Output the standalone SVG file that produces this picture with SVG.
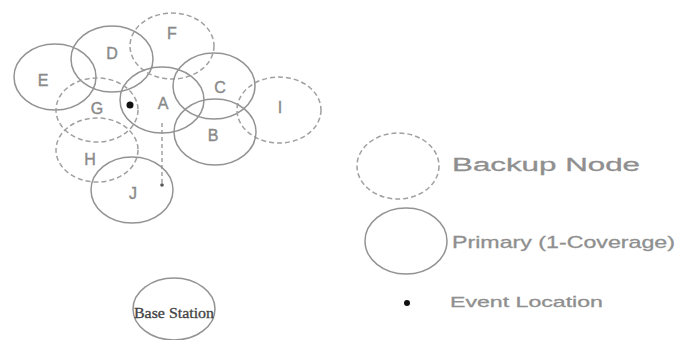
<svg xmlns="http://www.w3.org/2000/svg" width="678" height="340" viewBox="0 0 678 340">
<style>
.p{fill:none;stroke:#939393;stroke-width:1.5}
.b{fill:none;stroke:#a0a0a0;stroke-width:1.5;stroke-dasharray:5 3}
.l{font-family:"Liberation Sans",Arial,sans-serif;font-size:16px;fill:#8a8a8a;text-anchor:middle;stroke:#8a8a8a;stroke-width:0.4}
.g{font-family:"Liberation Sans",Arial,sans-serif;fill:#8f8f8f;stroke:#8f8f8f;stroke-width:0.3}
</style>
<rect width="678" height="340" fill="#fff"/>
<g id="connectors">
<line x1="162" y1="123" x2="162" y2="185" stroke="#8a8a8a" stroke-width="1.2" stroke-dasharray="4 3"/>
</g>
<g id="E"><ellipse class="p" cx="55" cy="77" rx="41" ry="33"/><text class="l" x="43" y="86">E</text></g>
<g id="D"><ellipse class="p" cx="112" cy="59" rx="41" ry="33"/><text class="l" x="112" y="59">D</text></g>
<g id="F"><ellipse class="b" cx="172" cy="46" rx="42" ry="33"/><text class="l" x="172" y="39">F</text></g>
<g id="C"><ellipse class="p" cx="214" cy="86" rx="41" ry="33"/><text class="l" x="220" y="93">C</text></g>
<g id="I"><ellipse class="b" cx="279" cy="110" rx="42" ry="33"/><text class="l" x="280" y="113">I</text></g>
<g id="A"><ellipse class="p" cx="162" cy="100" rx="42" ry="33"/><text class="l" x="163" y="109">A</text></g>
<g id="G"><ellipse class="b" cx="97" cy="110" rx="41" ry="32"/><text class="l" x="97" y="114">G</text></g>
<g id="B"><ellipse class="p" cx="215" cy="132" rx="41" ry="33"/><text class="l" x="213" y="141">B</text></g>
<g id="H"><ellipse class="b" cx="97" cy="150" rx="41" ry="32"/><text class="l" x="90" y="165">H</text></g>
<g id="J"><ellipse class="p" cx="132" cy="190" rx="41" ry="33"/><text class="l" x="133" y="199">J</text></g>
<g id="event"><circle cx="130" cy="105" r="3.5" fill="#111"/></g>
<g id="target"><circle cx="162" cy="185" r="1.8" fill="#555"/></g>
<g id="base-station"><ellipse class="p" cx="174" cy="309" rx="41" ry="31"/><text x="174" y="318" font-family="'Liberation Serif',serif" font-size="14" fill="#444" stroke="#444" stroke-width="0.3" text-anchor="middle" textLength="80" lengthAdjust="spacingAndGlyphs">Base Station</text></g>
<g id="legend-backup"><ellipse class="b" cx="398" cy="166" rx="41" ry="33"/><text class="g" x="452" y="171" font-size="18" textLength="188" lengthAdjust="spacingAndGlyphs">Backup Node</text></g>
<g id="legend-primary"><ellipse class="p" cx="406" cy="241" rx="41" ry="33"/><text class="g" x="452" y="248" font-size="17" textLength="223" lengthAdjust="spacingAndGlyphs">Primary (1-Coverage)</text></g>
<g id="legend-event"><circle cx="407" cy="303" r="3" fill="#111"/><text class="g" x="450" y="307" font-size="15" textLength="153" lengthAdjust="spacingAndGlyphs">Event Location</text></g>
</svg>
